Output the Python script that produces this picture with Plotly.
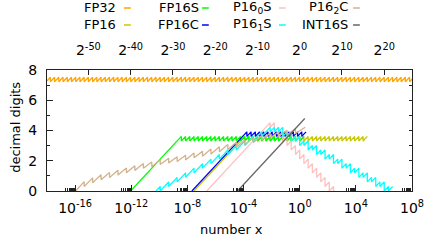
import plotly.graph_objects as go

# ---------------- data (x given as log2 of the number, y = decimal digits) -------------
# FP32: one tooth per binade over the whole plotted range
fp32_teeth_log2 = list(range(-60, 27))
fp32_lo, fp32_hi = 7.22, 7.52

# FP16: subnormal ramp, then one tooth per binade
fp16_ramp_log2 = [-25, -14]
fp16_ramp_digits = [0.0, 3.31]
fp16_teeth_log2 = list(range(-14, 16))
fp16_lo, fp16_hi = 3.31, 3.61

# FP16S
fp16s_ramp_log2 = [-40, -29]
fp16s_ramp_digits = [0.0, 3.31]
fp16s_teeth_log2 = list(range(-29, 1))
fp16s_lo, fp16s_hi = 3.31, 3.61

# FP16C
fp16c_ramp_log2 = [-25.5, -13.5]
fp16c_ramp_digits = [0.0, 3.61]
fp16c_teeth_log2 = [-13.5, -12.5, -11.5, -10.5, -9.5, -8.5, -7.5, -6.5, -5.5, -4.5,
                    -3.5, -2.5, -1.5, -0.5, 0.5]
fp16c_lo, fp16c_hi = 3.61, 3.91

# P16_0S
p160s_ramp_log2 = [-22, -7]
p160s_ramp_digits = [0.0, 4.52]
p160s_teeth_log2 = [-7, -6, -5, -4, -3, -2, -1, 0, 1, 2, 3, 4, 5, 6, 7]
p160s_lo = [4.21, 3.91, 3.61, 3.31, 3.01, 2.71, 2.41, 2.11, 1.81, 1.51, 1.20, 0.90, 0.60, 0.30, 0.00]
p160s_hi = [4.52, 4.21, 3.91, 3.61, 3.31, 3.01, 2.71, 2.41, 2.11, 1.81, 1.51, 1.20, 0.90, 0.60, 0.30]

# P16_1S
p161s_teeth_log2 = list(range(-34, 22))
p161s_lo = [0.00, 0.00, 0.30, 0.30, 0.60, 0.60, 0.90, 0.90, 1.20, 1.20, 1.51, 1.51,
            1.81, 1.81, 2.11, 2.11, 2.41, 2.41, 2.71, 2.71, 3.01, 3.01, 3.31, 3.31,
            3.61, 3.61, 3.91, 3.91, 3.91, 3.91, 3.61, 3.61, 3.31, 3.31, 3.01, 3.01,
            2.71, 2.71, 2.41, 2.41, 2.11, 2.11, 1.81, 1.81, 1.51, 1.51, 1.20, 1.20,
            0.90, 0.90, 0.60, 0.60, 0.30, 0.30, 0.00, 0.00]
p161s_hi = [0.30, 0.30, 0.60, 0.60, 0.90, 0.90, 1.20, 1.20, 1.51, 1.51, 1.81, 1.81,
            2.11, 2.11, 2.41, 2.41, 2.71, 2.71, 3.01, 3.01, 3.31, 3.31, 3.61, 3.61,
            3.91, 3.91, 4.21, 4.21, 4.21, 4.21, 3.91, 3.91, 3.61, 3.61, 3.31, 3.31,
            3.01, 3.01, 2.71, 2.71, 2.41, 2.41, 2.11, 2.11, 1.81, 1.81, 1.51, 1.51,
            1.20, 1.20, 0.90, 0.90, 0.60, 0.60, 0.30, 0.30]

# P16_2C (teeth two binades wide)
p162c_teeth_log2 = [-53, -51, -49, -47, -45, -43, -41, -39, -37, -35, -33, -31, -29, -27,
                    -25, -23, -21, -19, -17, -15, -13, -11, -9, -7, -5, -3, -1]
p162c_width = 2
p162c_lo = [0.00, 0.30, 0.55, 0.75, 0.90, 1.05, 1.20, 1.35, 1.50, 1.60, 1.75, 1.85, 1.95, 2.05,
            2.20, 2.30, 2.45, 2.60, 2.75, 2.90, 3.05, 3.20, 3.35, 3.50, 3.60, 3.70, 3.80]
p162c_hi = [0.62, 0.87, 1.07, 1.22, 1.37, 1.52, 1.67, 1.82, 1.92, 2.07, 2.17, 2.27, 2.37, 2.52,
            2.62, 2.77, 2.92, 3.07, 3.22, 3.37, 3.52, 3.67, 3.82, 3.92, 4.02, 4.12, 4.22]

# INT16S: straight line
int16s_log2 = [-14.7, 1.2]
int16s_digits = [0.0, 4.79]

# axis ticks
bottom_tick_exp10 = [-16, -12, -8, -4, 0, 4, 8]
top_tick_exp2 = [-50, -40, -30, -20, -10, 0, 10, 20]
y_major = [0, 2, 4, 6, 8]
y_minor = [1, 3, 5, 7]

names = ["FP32", "FP16", "FP16S", "FP16C", "P16<sub>0</sub>S", "P16<sub>1</sub>S",
         "P16<sub>2</sub>C", "INT16S"]
colors = ["#ffa500", "#c8c800", "#00ff00", "#0000ff", "#ffc0c0", "#00ffff", "#d2b48c", "#666666"]


# ---------------- helpers ----------------
def teeth(starts, lo, hi, width=1):
    n = len(starts)
    los = lo if isinstance(lo, list) else [lo] * n
    his = hi if isinstance(hi, list) else [hi] * n
    ws = width if isinstance(width, list) else [width] * n
    xs, ys = [], []
    for s, a, b, w in zip(starts, los, his, ws):
        xs += [s, s + w]
        ys += [a, b]
    return xs, ys


def series(parts):
    xs, ys = [], []
    for px, py in parts:
        xs += px
        ys += py
    return [2.0 ** v for v in xs], ys


fp32 = series([teeth(fp32_teeth_log2, fp32_lo, fp32_hi)])
fp16 = series([(fp16_ramp_log2, fp16_ramp_digits), teeth(fp16_teeth_log2, fp16_lo, fp16_hi)])
fp16s = series([(fp16s_ramp_log2, fp16s_ramp_digits), teeth(fp16s_teeth_log2, fp16s_lo, fp16s_hi)])
fp16c = series([(fp16c_ramp_log2, fp16c_ramp_digits), teeth(fp16c_teeth_log2, fp16c_lo, fp16c_hi)])
p160s = series([(p160s_ramp_log2, p160s_ramp_digits), teeth(p160s_teeth_log2, p160s_lo, p160s_hi),
                ([p160s_teeth_log2[-1] + 1], [0.0])])
p161s = series([teeth(p161s_teeth_log2, p161s_lo, p161s_hi)])
p162c_w = [p162c_width] * (len(p162c_teeth_log2) - 1) + [2.3]
p162c = series([teeth(p162c_teeth_log2, p162c_lo, p162c_hi, p162c_w)])
int16s = series([(int16s_log2, int16s_digits)])

all_series = [fp32, fp16, fp16s, fp16c, p160s, p161s, p162c, int16s]

fig = go.Figure()
for (xs, ys), nm, col in zip(all_series, names, colors):
    fig.add_trace(go.Scatter(x=xs, y=ys, mode="lines", name=nm, line=dict(color=col, width=1.3),
                             showlegend=False, hoverinfo="skip"))
# dummy trace to activate top/right axes
fig.add_trace(go.Scatter(x=[1e-10], y=[-5], xaxis="x2", yaxis="y2", mode="lines",
                         showlegend=False, hoverinfo="skip"))

FONT = dict(family="DejaVu Sans", size=13, color="black")
TICKFONT = dict(family="DejaVu Sans", size=14, color="black")
W, H = 436, 241
L, R, T, B = 47, 421.5, 70, 191


def fx(px):
    return (px - L) / (R - L)


def fy(py):
    return (B - py) / (B - T)


bottom_minor = []
for k in bottom_tick_exp10:
    for m in range(2, 10):
        bottom_minor.append(m * 10.0 ** (k - 1))

fig.update_layout(
    width=W, height=H,
    margin=dict(l=L, r=W - R, t=T, b=H - B, pad=0),
    paper_bgcolor="white", plot_bgcolor="white",
    font=FONT,
    showlegend=False,
    xaxis=dict(type="log", range=[-18, 8], showgrid=False, zeroline=False,
               showline=True, linecolor="#222", linewidth=1,
               ticks="inside", ticklen=6, tickcolor="#222", tickfont=TICKFONT,
               tickvals=[10.0 ** k for k in bottom_tick_exp10],
               ticktext=["10<sup>%d</sup>" % k for k in bottom_tick_exp10],
               ticklabelstandoff=4,
               minor=dict(tickvals=bottom_minor, ticks="inside", ticklen=3, tickcolor="#222")),
    xaxis2=dict(type="log", range=[-18, 8], overlaying="x", side="top", showgrid=False,
                zeroline=False, showline=True, linecolor="#222", linewidth=1,
                ticks="inside", ticklen=5, tickcolor="#222", tickfont=TICKFONT,
                tickvals=[2.0 ** k for k in top_tick_exp2],
                ticktext=["2<sup>%d</sup>" % k for k in top_tick_exp2],
                ticklabelstandoff=8),
    yaxis=dict(range=[0, 8], showgrid=False, zeroline=False, showline=True,
               linecolor="#222", linewidth=1, ticks="inside", ticklen=6, tickcolor="#222",
               tickfont=TICKFONT,
               tickvals=y_major, ticktext=[str(v) for v in y_major], ticklabelstandoff=6,
               minor=dict(tickvals=y_minor, ticks="inside", ticklen=3, tickcolor="#222")),
    yaxis2=dict(range=[0, 8], overlaying="y", side="right", showgrid=False, zeroline=False,
                showline=True, linecolor="#222", linewidth=1, ticks="inside", ticklen=3,
                tickcolor="#222", tickvals=list(range(0, 9)), showticklabels=False),
)

annotations = [
    dict(text="decimal digits", x=fx(14), y=fy(127), xref="paper", yref="paper",
         textangle=-90, showarrow=False, font=FONT, xanchor="center", yanchor="middle"),
    dict(text="number x", x=fx(236), y=fy(229), xref="paper", yref="paper",
         showarrow=False, font=FONT, xanchor="center", yanchor="middle"),
]
shapes = []
# legend: text right-aligned then short sample line
leg_cols = [(120, 126, 133), (205, 206, 213), (279, 285, 292), (358, 361, 368)]
leg_rows = [8, 25]
order = [(0, 0), (0, 1), (1, 0), (1, 1), (2, 0), (2, 1), (3, 0), (3, 1)]
for i, (c, r) in enumerate(order):
    tx, s0, s1 = leg_cols[c]
    yy = leg_rows[r]
    annotations.append(dict(text=names[i], x=fx(tx), y=fy(yy), xref="paper", yref="paper",
                            showarrow=False, font=FONT, xanchor="right", yanchor="middle"))
    shapes.append(dict(type="line", xref="paper", yref="paper", x0=fx(s0), x1=fx(s1),
                       y0=fy(yy), y1=fy(yy), line=dict(color=colors[i], width=1.5)))
fig.update_layout(annotations=annotations, shapes=shapes)

fig.write_html("out.html", config={"displayModeBar": False},
               post_script="document.body.style.margin='0';document.body.style.padding='0';")
